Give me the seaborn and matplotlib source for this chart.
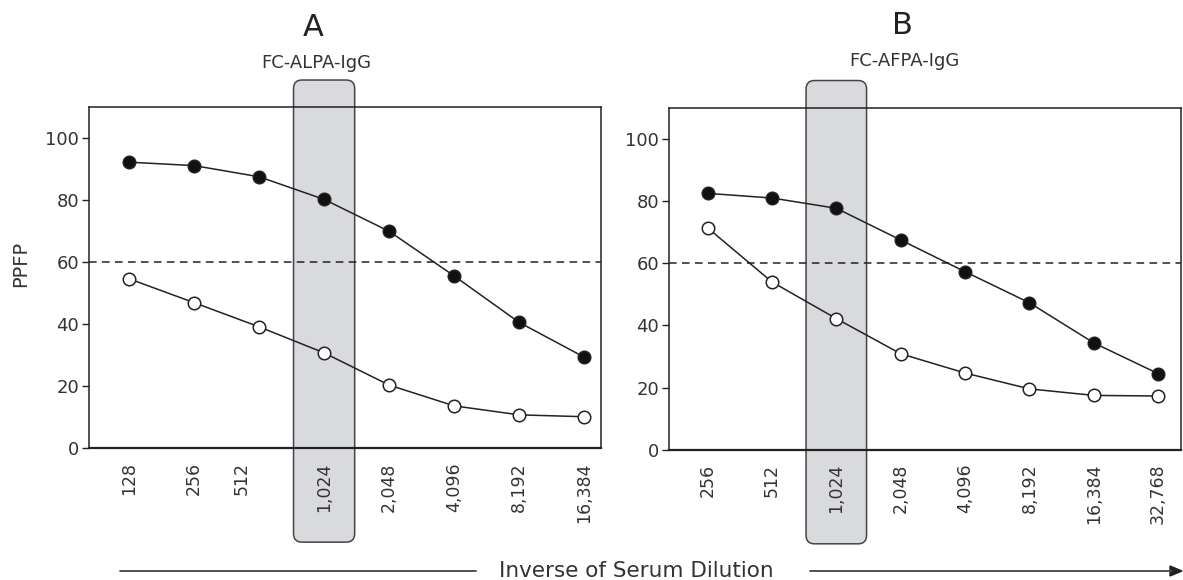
import matplotlib
matplotlib.use('Agg')
import matplotlib.pyplot as plt
from matplotlib.patches import FancyBboxPatch
from matplotlib.transforms import blended_transform_factory, ScaledTranslation
import pandas as pd
import seaborn as sns

sns.set_style('ticks')
plt.rcParams['font.family'] = ['DejaVu Sans']

# dilution labels and PPFP values
labels_a = ['128', '256', '512', '1,024', '2,048', '4,096', '8,192', '16,384']
filled_a = [92.3, 91.2, 87.6, 80.3, 70.0, 55.6, 40.6, 29.4]
open_a = [54.7, 47.0, 39.2, 30.8, 20.4, 13.7, 10.8, 10.2]

labels_b = ['256', '512', '1,024', '2,048', '4,096', '8,192', '16,384', '32,768']
filled_b = [82.5, 81.0, 77.7, 67.5, 57.3, 47.3, 34.4, 24.5]
open_b = [71.4, 54.0, 42.2, 30.9, 24.7, 19.6, 17.5, 17.3]

cutoff = 60
highlight = '1,024'

ink = '#222222'
grey_txt = '#333333'


def draw_panel(ax, labels, filled, opened, xlim):
    df = pd.DataFrame({'pos': range(len(labels)), 'filled': filled, 'open': opened})
    sns.lineplot(data=df, x='pos', y='filled', ax=ax, color=ink, lw=1.1,
                 marker='o', markersize=9, markerfacecolor='#111111',
                 markeredgecolor=ink, markeredgewidth=1.1, zorder=4)
    sns.lineplot(data=df, x='pos', y='open', ax=ax, color=ink, lw=1.1,
                 marker='o', markersize=9, markerfacecolor='white',
                 markeredgecolor=ink, markeredgewidth=1.1, zorder=4)
    ax.axhline(cutoff, color=ink, lw=1.1, ls=(0, (5, 3.5)), zorder=3)

    # shaded box round the 1,024 dilution, running past the frame
    i = labels.index(highlight)
    trans = blended_transform_factory(ax.transData, ax.transAxes)
    box = FancyBboxPatch((i - 0.47, -0.275), 0.94, 1.355,
                         boxstyle='round,pad=0,rounding_size=0.13',
                         mutation_aspect=0.19, transform=trans,
                         facecolor='#d9dadd', edgecolor='#444444', lw=1.1,
                         clip_on=False, zorder=1)
    ax.add_patch(box)
    ax.set_axisbelow('line')

    ax.set_xlim(*xlim)
    ax.set_ylim(0, 110)
    ax.set_yticks([0, 20, 40, 60, 80, 100])
    ax.set_xticks(range(len(labels)))
    ax.set_xticklabels(labels, rotation=90, va='top')
    ax.tick_params(axis='x', length=0, pad=10, labelsize=12.5, labelcolor=grey_txt)
    ax.tick_params(axis='y', length=5, width=1, color=ink, labelsize=13,
                   labelcolor=grey_txt, pad=2)
    for sp in ax.spines.values():
        sp.set_color(ink)
        sp.set_linewidth(1.1)
    ax.spines['bottom'].set_linewidth(1.6)
    ax.set_xlabel('')
    ax.set_ylabel('')


fig = plt.figure(figsize=(11.83, 5.80), dpi=100)
ax_a = fig.add_axes([0.0752, 0.227, 0.433, 0.588])
ax_b = fig.add_axes([0.5655, 0.2245, 0.4325, 0.5895])

draw_panel(ax_a, labels_a, filled_a, open_a, (-0.615, 7.26))
draw_panel(ax_b, labels_b, filled_b, open_b, (-0.6, 7.35))

# the 512 label sits a little left of its point in panel A
lab = ax_a.get_xticklabels()[2]
lab.set_transform(lab.get_transform() + ScaledTranslation(-0.17, 0, fig.dpi_scale_trans))

ax_a.set_ylabel('PPFP', fontsize=14, color=grey_txt)
ax_a.yaxis.set_label_coords(-0.115, 0.54)

W, H = 1183, 580
fig.text(313 / W, 1 - 28 / H, 'A', fontsize=22, ha='center', va='center', color=ink)
fig.text(316 / W, 1 - 63 / H, 'FC-ALPA-IgG', fontsize=13, ha='center', va='center', color=grey_txt)
fig.text(902 / W, 1 - 25 / H, 'B', fontsize=22, ha='center', va='center', color=ink)
fig.text(904 / W, 1 - 61 / H, 'FC-AFPA-IgG', fontsize=13, ha='center', va='center', color=grey_txt)

# x axis caption with long arrow underneath both panels
yb = 1 - 571 / H
fig.add_artist(plt.Line2D([120 / W, 476 / W], [yb, yb], color='#444444', lw=1.3))
fig.text(636 / W, yb, 'Inverse of Serum Dilution', fontsize=15.5, ha='center', va='center', color=grey_txt)
fig.add_artist(plt.Line2D([810 / W, 1172 / W], [yb, yb], color='#444444', lw=1.3))
fig.patches.append(plt.Polygon([[1170 / W, yb + 5 / H], [1182 / W, yb], [1170 / W, yb - 5 / H]],
                               closed=True, transform=fig.transFigure, color='#222222'))

fig.savefig('out.png', dpi=100)
